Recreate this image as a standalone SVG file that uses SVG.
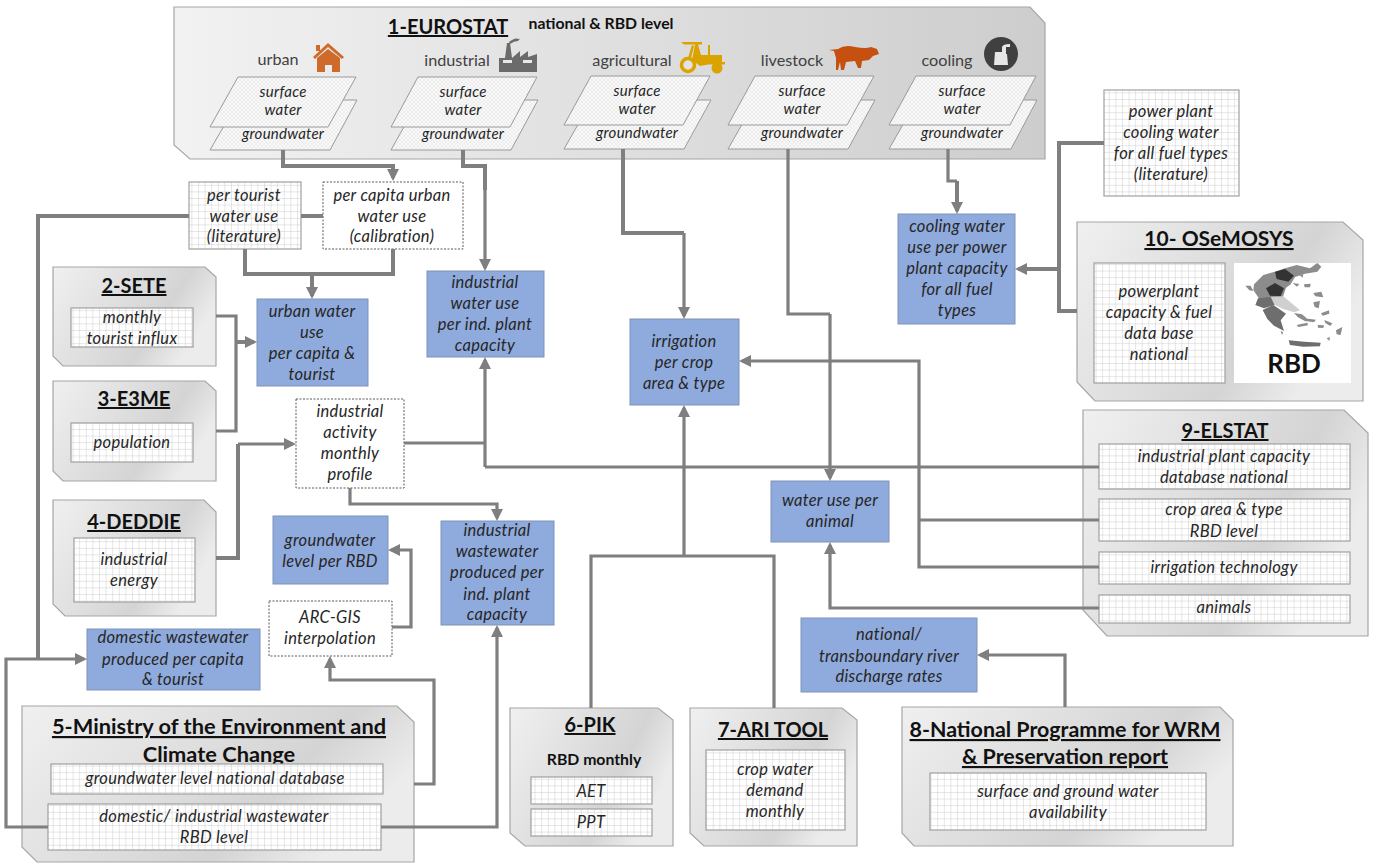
<svg xmlns="http://www.w3.org/2000/svg" width="1373" height="863" viewBox="0 0 1373 863">
<style>
text{font-family:Lato,"Liberation Sans",Arial,sans-serif;text-anchor:middle;fill:#262626}
.t{font-style:italic;font-size:16.5px;letter-spacing:.3px}
.p{font-style:italic;font-size:15px}
.h{font-weight:700;font-size:20px;text-decoration:underline;fill:#111}
.h2{font-weight:700;font-size:21.8px;text-decoration:underline;fill:#111}
.l{font-size:16.2px;fill:#404040}
.b{font-weight:700;font-size:15.8px;fill:#111}
.panel{fill:url(#pg);stroke:#a6a6a6;stroke-width:1.2}
.grid{fill:url(#grid);stroke:#a0a0a0;stroke-width:1.2}
.blue{fill:#8faadc;stroke:#7f93b8;stroke-width:1}
.dash{fill:#fff;stroke:#595959;stroke-width:1;stroke-dasharray:2 1.5}
.para{fill:url(#hatch);stroke:#9a9a9a;stroke-width:1}
.c{fill:none;stroke:#7f7f7f;stroke-width:3.2}
.c2{fill:none;stroke:#7f7f7f;stroke-width:4}
.a{marker-end:url(#arr)}
.m1{fill:#8c8c8c}.m2{fill:#333}.m3{fill:#cfcfcf}.m4{fill:#6e6e6e}
</style>
<defs>
<linearGradient id="pg" x1="0" y1="0" x2="1" y2=".4"><stop offset="0" stop-color="#f0f0f0"/><stop offset=".75" stop-color="#d4d4d4"/><stop offset="1" stop-color="#ececec"/></linearGradient>
<linearGradient id="pg0" x1="0" y1="0" x2="1" y2="0"><stop offset="0" stop-color="#f2f2f2"/><stop offset="1" stop-color="#cdcdcd"/></linearGradient>
<pattern id="grid" width="6.6" height="6.6" patternUnits="userSpaceOnUse"><rect width="6.6" height="6.6" fill="#fff"/><path d="M0 0H6.6M0 0V6.6" stroke="#cacaca" stroke-width=".9" fill="none"/></pattern>
<pattern id="hatch" width="4" height="4" patternUnits="userSpaceOnUse"><rect width="4" height="4" fill="#fafafa"/><path d="M0 0L4 4M4 0L0 4" stroke="#e2e2e2" stroke-width=".6" fill="none"/></pattern>
<marker id="arr" viewBox="0 0 10 10" refX="7.5" refY="5" markerWidth="12" markerHeight="12" markerUnits="userSpaceOnUse" orient="auto"><path d="M0 0L10 5L0 10Z" fill="#7f7f7f"/></marker>
</defs>

<g id="n1-eurostat">
<path d="M174 7H1030L1045 23V159H190L174 145Z" style="fill:url(#pg0);stroke:#a6a6a6;stroke-width:1.2"/>
<text class="h" x="448" y="34">1-EUROSTAT</text>
<text class="b" x="601" y="29">national  &amp; RBD level</text>
<text class="l" x="278" y="65">urban</text>
<text class="l" x="457" y="66">industrial</text>
<text class="l" x="632" y="66">agricultural</text>
<text class="l" x="792" y="66">livestock</text>
<text class="l" x="947" y="66">cooling</text>
<g id="icon-house" fill="#cf6a2a"><path d="M313 57L328 43L344 57L342 59L328 47L315 59Z"/><path d="M317 58L328 49L340 58V72H332V65H325V72H317Z"/><rect x="316" y="45" width="4" height="6"/></g>
<g id="icon-factory" fill="#6b6b6b"><path d="M499 72V58L505 58L507 43H510L512 58L520 51V57L528 51V57L537 54V72Z"/><rect x="503" y="60" width="9" height="3" fill="#e8e8e8"/><rect x="523" y="60" width="9" height="3" fill="#e8e8e8"/><path d="M509 42Q515 37 519 39Q521 38 518 41Q514 41 510 44Z"/></g>
<g id="icon-tractor" fill="#dba300"><path d="M681 42H702V44.500H698L701 55H708V45H710V55H722V62H725V64.500H708L700 66L692 60L695 44.500H684Z"/><path d="M692 45L688 58H691L694 46Z"/><circle cx="688" cy="65" r="6.500" fill="#e2e2e2" stroke="#dba300" stroke-width="3.500"/><circle cx="717" cy="68" r="5.500"/></g>
<path id="icon-cow" fill="#c5500f" d="M829 50L838 49Q845 44 855 47Q866 49 871 47L877 49L879 54L873 56L869 60L862 61L861 68H858L855 61L846 62L844 70H841L840 62L838 70H836V58L834 51Z"/>
<g id="icon-cooling"><circle cx="1001" cy="54" r="17" fill="#404040"/><path d="M995 52H1002V47Q1003 44 1010 44V47H1006V54H1007L1008 65H994Z" fill="#e6e6e6"/></g>
<g id="w-urban"><path class="para" d="M239 100H357L330 150H210Z"/><path class="para" d="M238 77H356L328 127H210Z"/><text class="p" x="283" y="97" textLength="47">surface</text><text class="p" x="283" y="115" textLength="37">water</text><text class="p" x="283" y="139" textLength="82">groundwater</text></g>
<g id="w-industrial"><path class="para" d="M419 100H538L511 150H391Z"/><path class="para" d="M418 77H537L510 127H391Z"/><text class="p" x="463" y="97" textLength="47">surface</text><text class="p" x="463" y="115" textLength="37">water</text><text class="p" x="463" y="139" textLength="82">groundwater</text></g>
<g id="w-agricultural"><path class="para" d="M592 100H711L684 149H564Z"/><path class="para" d="M591 76H710L683 125H564Z"/><text class="p" x="637" y="96" textLength="47">surface</text><text class="p" x="637" y="114" textLength="37">water</text><text class="p" x="637" y="138" textLength="82">groundwater</text></g>
<g id="w-livestock"><path class="para" d="M756 100H875L848 149H728Z"/><path class="para" d="M755 76H874L847 125H728Z"/><text class="p" x="802" y="96" textLength="47">surface</text><text class="p" x="802" y="114" textLength="37">water</text><text class="p" x="802" y="138" textLength="82">groundwater</text></g>
<g id="w-cooling"><path class="para" d="M917 100H1037L1011 149H889Z"/><path class="para" d="M916 76H1036L1010 125H889Z"/><text class="p" x="962" y="96" textLength="47">surface</text><text class="p" x="962" y="114" textLength="37">water</text><text class="p" x="962" y="138" textLength="82">groundwater</text></g>
</g>

<g id="n-power-lit"><rect class="grid" x="1104" y="90" width="135" height="106"/><text class="t" x="1171" y="117">power plant</text><text class="t" x="1171" y="138">cooling water</text><text class="t" x="1171" y="159">for all fuel types</text><text class="t" x="1171" y="180">(literature)</text></g>

<g id="n10-osemosys">
<path class="panel" d="M1077 222H1343L1363 240V401H1095L1077 382Z"/>
<text class="h" style="font-size:21px" x="1219" y="246"> 10- OSeMOSYS</text>
<rect class="grid" x="1094" y="263" width="131" height="120"/>
<text class="t" x="1159" y="297">powerplant</text><text class="t" x="1159" y="318">capacity &amp; fuel</text><text class="t" x="1159" y="339">data base</text><text class="t" x="1159" y="360">national</text>
<rect x="1234" y="263" width="117" height="120" fill="#fff"/>
<g id="map" transform="translate(1230 255) scale(.3333)">
<path class="m1" d="M72 88L100 60L135 50L165 40L200 30L240 40L262 24L274 35L262 50L225 56L195 66L182 88L168 98L158 128L120 128L88 132L70 105Z"/>
<path class="m2" d="M135 50L165 42L192 62L175 80L140 72Z"/><path class="m2" d="M108 100L135 84L162 100L152 124L120 122Z"/>
<path class="m3" d="M120 126L160 124L210 166L192 172L160 162L135 150Z"/>
<path class="m4" d="M84 130L122 126L134 150L102 160L76 150Z"/><path class="m4" d="M98 165L130 150L168 176L152 196L162 228L132 212L112 192Z"/>
<path class="m4" d="M176 256L222 260L272 263L270 274L220 275L180 270Z"/>
<path class="m1" d="M46 92L62 92L70 108L58 106ZM250 114L274 110L280 127L256 124ZM250 142L270 138L266 160L254 156ZM222 88L242 86L240 97L224 97ZM318 226L337 216L332 240L320 238ZM200 210L232 203L234 211L206 216ZM273 175L297 166L298 176L278 182ZM283 195L307 205L301 213L286 204ZM222 190L258 194L252 202L226 198ZM263 210L282 211L280 219L264 218ZM192 174L216 178L236 195L226 199L204 187ZM188 84L208 87L201 95ZM208 60L220 58L218 68ZM290 250L300 246L298 258ZM152 228L160 232L156 240Z"/>
</g>
<text x="1294" y="373" style="font-weight:700;font-size:26px;fill:#111">RBD</text>
</g>

<g id="n9-elstat">
<path class="panel" d="M1083 410H1344L1368 433V636H1107L1083 610Z"/>
<text class="h" x="1225" y="438">9-ELSTAT</text>
<rect class="grid" x="1099" y="444" width="251" height="45"/><text class="t" x="1224" y="462">industrial plant capacity</text><text class="t" x="1224" y="483">database national</text>
<rect class="grid" x="1099" y="499" width="251" height="42"/><text class="t" x="1224" y="515">crop area &amp; type</text><text class="t" x="1224" y="537">RBD level</text>
<rect class="grid" x="1099" y="552" width="251" height="32"/><text class="t" x="1224" y="573">irrigation technology</text>
<rect class="grid" x="1099" y="595" width="251" height="28"/><text class="t" x="1224" y="613">animals</text>
</g>

<g id="n2-sete"><path class="panel" d="M53 267H205L216 277V366H63L53 356Z"/><text class="h" x="134" y="293">2-SETE</text><rect class="grid" x="71" y="308" width="122" height="39"/><text class="t" x="132" y="323">monthly</text><text class="t" x="132" y="344">tourist influx</text></g>
<g id="n3-e3me"><path class="panel" d="M53 381H205L216 391V481H63L53 471Z"/><text class="h" x="134" y="406">3-E3ME</text><rect class="grid" x="71" y="423" width="122" height="39"/><text class="t" x="132" y="448">population</text></g>
<g id="n4-deddie"><path class="panel" d="M53 500H204L216 512V616H65L53 604Z"/><text class="h" x="134" y="529">4-DEDDIE</text><rect class="grid" x="74" y="538" width="121" height="64"/><text class="t" x="134" y="565">industrial</text><text class="t" x="134" y="586">energy</text></g>

<g id="n5-ministry"><path class="panel" d="M22 706H397L414 722V862H37L22 847Z"/>
<text class="h2" x="219" y="734">5-Ministry of the Environment and</text><text class="h2" x="219" y="762">Climate Change</text>
<rect class="grid" x="51" y="764" width="332" height="30"/><text class="t" x="215" y="784">groundwater level national database</text>
<rect class="grid" x="48" y="804" width="333" height="46"/><text class="t" x="214" y="822">domestic/ industrial wastewater</text><text class="t" x="214" y="843">RBD level</text></g>

<g id="n6-pik"><path class="panel" d="M510 708H658L673 720V846H525L510 833Z"/><text class="h" x="590" y="732">6-PIK</text><text class="b" x="594" y="765">RBD monthly</text>
<rect class="grid" x="531" y="777" width="121" height="27"/><text class="t" x="591" y="797">AET</text>
<rect class="grid" x="531" y="809" width="121" height="27"/><text class="t" x="591" y="828">PPT</text></g>
<g id="n7-ari"><path class="panel" d="M690 708H842L857 720V846H704L690 833Z"/><text class="h" x="773" y="737">7-ARI TOOL</text>
<rect class="grid" x="706" y="750" width="139" height="80"/><text class="t" x="775" y="775">crop water</text><text class="t" x="775" y="796">demand</text><text class="t" x="775" y="817">monthly</text></g>
<g id="n8-national"><path class="panel" d="M902 707H1220L1233 720V846H914L902 833Z"/><text class="h2" style="font-size:21.4px" x="1065" y="737">8-National Programme for WRM</text><text class="h2" style="font-size:21.4px" x="1065" y="764">&amp; Preservation report</text>
<rect class="grid" x="930" y="773" width="276" height="57"/><text class="t" x="1068" y="797">surface and ground water</text><text class="t" x="1068" y="818">availability</text></g>

<g id="n-per-tourist"><rect class="grid" x="189" y="182" width="112" height="67"/><text class="t" x="244" y="201">per tourist</text><text class="t" x="244" y="222">water use</text><text class="t" x="244" y="242">(literature)</text></g>
<g id="n-per-capita"><rect class="dash" x="323" y="182" width="140" height="67"/><text class="t" x="392" y="201">per capita urban</text><text class="t" x="392" y="222">water use</text><text class="t" x="392" y="242">(calibration)</text></g>
<g id="n-ind-activity"><rect class="dash" x="296" y="399" width="108" height="89"/><text class="t" x="350" y="417">industrial</text><text class="t" x="350" y="438">activity</text><text class="t" x="350" y="459">monthly</text><text class="t" x="350" y="480">profile</text></g>
<g id="n-arcgis"><rect class="dash" x="269" y="601" width="123" height="55"/><text class="t" x="330" y="623">ARC-GIS</text><text class="t" x="330" y="644">interpolation</text></g>

<g id="n-urban-use"><rect class="blue" x="257" y="299" width="111" height="87"/><text class="t" x="312" y="317">urban water</text><text class="t" x="312" y="338">use</text><text class="t" x="312" y="359">per capita &amp;</text><text class="t" x="312" y="380">tourist</text></g>
<g id="n-ind-use"><rect class="blue" x="427" y="271" width="117" height="86"/><text class="t" x="485" y="288">industrial</text><text class="t" x="485" y="309">water use</text><text class="t" x="485" y="330">per ind. plant</text><text class="t" x="485" y="351">capacity</text></g>
<g id="n-irrigation"><rect class="blue" x="630" y="319" width="109" height="86"/><text class="t" x="684" y="347">irrigation</text><text class="t" x="684" y="368">per crop</text><text class="t" x="684" y="389">area &amp; type</text></g>
<g id="n-ind-waste"><rect class="blue" x="441" y="521" width="113" height="104"/><text class="t" x="497" y="536">industrial</text><text class="t" x="497" y="557">wastewater</text><text class="t" x="497" y="578">produced per</text><text class="t" x="497" y="600">ind. plant</text><text class="t" x="497" y="620">capacity</text></g>
<g id="n-gw-level"><rect class="blue" x="273" y="516" width="115" height="68"/><text class="t" x="330" y="546">groundwater</text><text class="t" x="330" y="567">level per RBD</text></g>
<g id="n-dom-waste"><rect class="blue" x="87" y="629" width="173" height="61"/><text class="t" x="173" y="643">domestic wastewater</text><text class="t" x="173" y="665">produced per capita</text><text class="t" x="173" y="685">&amp; tourist</text></g>
<g id="n-cooling"><rect class="blue" x="898" y="214" width="117" height="110"/><text class="t" x="957" y="232">cooling water</text><text class="t" x="957" y="253">use per power</text><text class="t" x="957" y="274">plant capacity</text><text class="t" x="957" y="295">for all fuel</text><text class="t" x="957" y="316">types</text></g>
<g id="n-animal"><rect class="blue" x="771" y="481" width="118" height="61"/><text class="t" x="830" y="506">water use per</text><text class="t" x="830" y="527">animal</text></g>
<g id="n-river"><rect class="blue" x="801" y="618" width="176" height="74"/><text class="t" x="889" y="640">national/</text><text class="t" x="889" y="662">transboundary river</text><text class="t" x="889" y="682">discharge rates</text></g>

<g id="connectors">
<path class="c2 a" d="M283 150V166H393V178"/>
<path class="c2" d="M463 150V166H485V190"/>
<path class="c a" d="M485 190V268"/>
<path class="c2" d="M623 149V233H684"/>
<path class="c a" d="M684 233V316"/>
<path class="c" d="M788 149V314H830"/>
<path class="c a" d="M830 314V478"/>
<path class="c" d="M948 149V181H957"/>
<path class="c2 a" d="M957 181V211"/>
<path class="c2" d="M1104 143H1059V311H1077"/>
<path class="c2 a" d="M1059 269H1018"/>
<path class="c2" d="M189 216H38V659"/>
<path class="c2" d="M301 216H323"/>
<path class="c2" d="M245 249V274H393V249"/>
<path class="c2 a" d="M312 274V296"/>
<path class="c" d="M216 316H236V431H216"/>
<path class="c2 a" d="M236 342H254"/>
<path class="c2" d="M216 558H238V444"/>
<path class="c a" d="M238 444H293"/>
<path class="c" d="M404 443H485"/>
<path class="c a" d="M485 467V360"/>
<path class="c" d="M485 467H1099"/>
<path class="c a" d="M350 488V504H497V518"/>
<path class="c a" d="M392 627H411V550H391"/>
<path class="c a" d="M414 784H434V680H330V659"/>
<path class="c a" d="M381 827H497V628"/>
<path class="c a" d="M48 827H6V659H84"/>
<path class="c" d="M591 708V556H774V708"/>
<path class="c a" d="M684 556V408"/>
<path class="c" d="M1099 520H919"/>
<path class="c a" d="M1099 567H919V361H742"/>
<path class="c a" d="M1099 608H830V545"/>
<path class="c a" d="M1065 707V655H980"/>
</g>
</svg>
